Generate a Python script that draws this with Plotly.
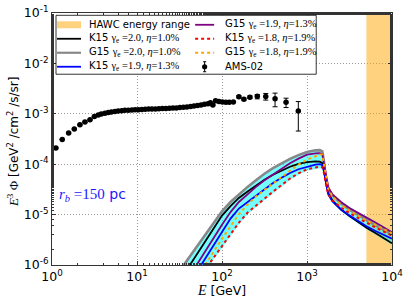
import numpy as np
import plotly.graph_objects as go

# ---------------- data ----------------
energy_gev = [31.6, 39.8, 50.1, 63.1, 79.4, 100, 126, 158, 200, 251, 316, 398, 501, 631, 794,
              1000, 1259, 1413, 1514, 1585, 1660, 1778, 1995, 2512, 3162, 3981, 5012, 6310, 7943, 10000]

# log10 of E^3 Phi [GeV^2 / cm^2 / s / sr]
log_k15_g20 = [-6.32, -6.06, -5.80, -5.54, -5.27, -5.02, -4.83, -4.67, -4.54, -4.42, -4.31, -4.21, -4.125, -4.05,
               -3.995, -3.96, -3.945, -3.95, -3.98, -4.12, -4.33, -4.57, -4.72, -4.90, -5.03, -5.15, -5.26, -5.36, -5.47, -5.57]
log_g15_g20 = [-6.12, -5.88, -5.64, -5.40, -5.16, -4.935, -4.75, -4.60, -4.45, -4.32, -4.19, -4.08, -3.98, -3.895,
               -3.82, -3.76, -3.725, -3.72, -3.745, -3.95, -4.25, -4.48, -4.62, -4.78, -4.90, -5.01, -5.11, -5.21, -5.30, -5.39]
log_k15_g19 = [-6.68, -6.41, -6.135, -5.87, -5.60, -5.33, -5.08, -4.88, -4.75, -4.625, -4.50, -4.375, -4.27, -4.175,
               -4.10, -4.05, -4.01, -4.00, -4.02, -4.15, -4.37, -4.60, -4.74, -4.90, -5.02, -5.13, -5.23, -5.32, -5.40, -5.48]
log_g15_g19 = [-6.54, -6.27, -6.005, -5.74, -5.47, -5.20, -4.95, -4.75, -4.60, -4.45, -4.32, -4.21, -4.10, -3.98,
               -3.89, -3.81, -3.785, -3.78, -3.80, -3.98, -4.24, -4.46, -4.60, -4.75, -4.87, -4.97, -5.06, -5.15, -5.25, -5.35]
log_k15_g18 = [-6.82, -6.57, -6.33, -6.09, -5.86, -5.63, -5.40, -5.16, -4.96, -4.82, -4.68, -4.545, -4.415, -4.285,
               -4.18, -4.10, -4.065, -4.05, -4.06, -4.18, -4.38, -4.60, -4.72, -4.86, -4.97, -5.07, -5.16, -5.25, -5.34, -5.42]
log_g15_g18 = [-6.80, -6.53, -6.26, -6.00, -5.74, -5.48, -5.23, -4.99, -4.80, -4.64, -4.51, -4.39, -4.26, -4.13,
               -4.01, -3.91, -3.84, -3.81, -3.81, -4.00, -4.26, -4.50, -4.64, -4.80, -4.92, -5.02, -5.12, -5.20, -5.29, -5.37]

hawc_range_gev = [5000, 10000]

ams_energy = [1.11, 1.32, 1.57, 1.83, 2.13, 2.44, 2.80, 3.15, 3.5,
              3.8, 4.2, 4.6, 5.0, 5.5, 6.0, 6.6, 7.2, 7.9, 8.7,
              9.5, 10.4, 11.4, 12.5, 13.7, 15.0, 16.5, 18.1, 19.9, 21.9,
              24.1, 26.5, 29.1, 32.0, 35.2, 38.7, 42.6, 46.8, 51.5, 56.6,
              62.3, 68.5, 73, 78, 84, 92, 101, 111, 122, 136,
              158, 181, 213, 260, 327, 421, 567, 790]
ams_flux = [2.09e-4, 3.1e-4, 4.15e-4, 4.98e-4, 6.05e-4, 6.84e-4, 7.6e-4, 8.85e-4, 9.5e-4,
            9.9e-4, 1.03e-3, 1.06e-3, 1.09e-3, 1.11e-3, 1.13e-3, 1.15e-3, 1.17e-3, 1.18e-3, 1.19e-3,
            1.20e-3, 1.21e-3, 1.22e-3, 1.23e-3, 1.24e-3, 1.24e-3, 1.25e-3, 1.26e-3, 1.27e-3, 1.28e-3,
            1.29e-3, 1.30e-3, 1.31e-3, 1.33e-3, 1.35e-3, 1.37e-3, 1.40e-3, 1.43e-3, 1.46e-3, 1.50e-3,
            1.54e-3, 1.59e-3, 1.65e-3, 1.49e-3, 1.81e-3, 1.76e-3, 1.72e-3, 1.69e-3, 1.69e-3, 1.71e-3,
            2.17e-3, 1.95e-3, 2.14e-3, 2.24e-3, 2.20e-3, 2.00e-3, 1.70e-3, 1.13e-3]
ams_err_hi = [0, 0, 0, 0, 0, 0, 0, 0, 0,
              0, 0, 0, 0, 0, 0, 0, 0, 0, 0,
              0, 0, 0, 0, 0, 0, 0, 0, 0, 0,
              0, 0, 0, 0, 0, 0, 0, 0, 0, 0,
              0, 0, 0, 0, 0, 0, 0, 0, 0, 0,
              0.10e-3, 0.10e-3, 0.12e-3, 0.17e-3, 0.33e-3, 0.57e-3, 0.34e-3, 0.62e-3]
ams_err_lo = [0, 0, 0, 0, 0, 0, 0, 0, 0,
              0, 0, 0, 0, 0, 0, 0, 0, 0, 0,
              0, 0, 0, 0, 0, 0, 0, 0, 0, 0,
              0, 0, 0, 0, 0, 0, 0, 0, 0, 0,
              0, 0, 0, 0, 0, 0, 0, 0, 0, 0,
              0.10e-3, 0.10e-3, 0.12e-3, 0.26e-3, 0.33e-3, 0.62e-3, 0.37e-3, 0.675e-3]

x_tickvals = [1, 10, 100, 1000, 10000]
x_ticktext = ["10<sup>0</sup>", "10<sup>1</sup>", "10<sup>2</sup>", "10<sup>3</sup>", "10<sup>4</sup>"]
y_tickvals = [1e-6, 1e-5, 1e-4, 1e-3, 1e-2, 1e-1]
y_ticktext = ["10<sup>-6</sup>", "10<sup>-5</sup>", "10<sup>-4</sup>", "10<sup>-3</sup>", "10<sup>-2</sup>", "10<sup>-1</sup>"]

# ---------------- figure ----------------
SERIF = "Liberation Serif"
SANS = "DejaVu Sans"

E = np.array(energy_gev)
curves = {
    "k15_g20": 10 ** np.array(log_k15_g20),
    "g15_g20": 10 ** np.array(log_g15_g20),
    "k15_g19": 10 ** np.array(log_k15_g19),
    "g15_g19": 10 ** np.array(log_g15_g19),
    "k15_g18": 10 ** np.array(log_k15_g18),
    "g15_g18": 10 ** np.array(log_g15_g18),
}
stack = np.log10(np.vstack(list(curves.values())))
band_hi = 10 ** (stack.max(axis=0) + 0.02)
band_lo = 10 ** (stack.min(axis=0) - 0.03)

fig = go.Figure()

# HAWC energy range
fig.add_trace(go.Scatter(
    x=[hawc_range_gev[0], hawc_range_gev[1], hawc_range_gev[1], hawc_range_gev[0]],
    y=[1e-6, 1e-6, 1e-1, 1e-1], fill="toself", mode="none",
    fillcolor="rgba(255,165,0,0.5)", showlegend=False, hoverinfo="skip"))

# cyan band
fig.add_trace(go.Scatter(x=E, y=band_lo, mode="lines", line=dict(width=0), showlegend=False))
fig.add_trace(go.Scatter(x=E, y=band_hi, mode="lines", line=dict(width=0), fill="tonexty",
                         fillcolor="rgba(0,255,255,0.55)", showlegend=False))

styles = [
    ("g15_g20", "#888888", 2.6, "solid"),
    ("k15_g20", "black", 1.8, "solid"),
    ("g15_g19", "#800080", 1.8, "solid"),
    ("k15_g19", "#0000ff", 1.8, "solid"),
    ("g15_g18", "#ffa500", 2.0, "dot"),
    ("k15_g18", "#ff0000", 2.0, "dot"),
]
for key, col, w, dash in styles:
    fig.add_trace(go.Scatter(x=E, y=curves[key], mode="lines",
                             line=dict(color=col, width=w, dash=dash), showlegend=False))

fig.add_trace(go.Scatter(
    x=ams_energy, y=ams_flux, mode="markers",
    marker=dict(color="black", size=5.5),
    error_y=dict(type="data", symmetric=False, array=ams_err_hi, arrayminus=ams_err_lo,
                 color="black", thickness=1, width=2.5),
    showlegend=False))

L, R, T, B = 52, 15.3, 12.7, 40
W, H = 407, 305
pw, ph = W - L - R, H - T - B

def px(x):
    return (x - L) / pw

def py(y):
    return (H - B - y) / ph

shapes = []
annos = []
# legend box
shapes.append(dict(type="rect", xref="paper", yref="paper", x0=px(56), x1=px(316), y0=py(74), y1=py(15),
                   fillcolor="white", line=dict(color="black", width=0.8), layer="above"))

def math(s, size=10.5):
    return '<span style="font-family:%s;font-size:%.1fpx">%s</span>' % (SERIF, size, s)

col1 = [
    ("patch", "rgba(255,165,0,0.5)", 0, "solid", "HAWC energy range"),
    ("line", "black", 1.8, "solid", "K15 " + math("γ<sub>e</sub> =2.0, <i>η</i>=1.0%")),
    ("line", "#888888", 2.2, "solid", "G15 " + math("γ<sub>e</sub> =2.0, <i>η</i>=1.0%")),
    ("line", "#0000ff", 1.8, "solid", "K15 " + math("γ<sub>e</sub> =1.9, <i>η</i>=1.3%")),
]
col2 = [
    ("line", "#800080", 1.8, "solid", "G15 " + math("γ<sub>e</sub> =1.9, <i>η</i>=1.3%")),
    ("line", "#ff0000", 1.8, "dot", "K15 " + math("γ<sub>e</sub> =1.8, <i>η</i>=1.9%")),
    ("line", "#ffa500", 1.8, "dot", "G15 " + math("γ<sub>e</sub> =1.8, <i>η</i>=1.9%")),
    ("marker", "black", 0, "solid", "AMS-02"),
]
rows = [24.5, 38.5, 52.5, 66.5]
for items, xs0, xs1, xt in [(col1, 57, 81, 86.5), (col2, 195, 214, 222.5)]:
    for (kind, col, w, dash, text), yy in zip(items, rows):
        if kind == "patch":
            shapes.append(dict(type="rect", xref="paper", yref="paper", x0=px(xs0), x1=px(xs1),
                               y0=py(yy + 3.5), y1=py(yy - 3.5), fillcolor=col, line=dict(width=0),
                               layer="above"))
        elif kind == "line":
            shapes.append(dict(type="line", xref="paper", yref="paper", x0=px(xs0), x1=px(xs1),
                               y0=py(yy), y1=py(yy), line=dict(color=col, width=w, dash=dash),
                               layer="above"))
        else:
            xm = (xs0 + xs1) / 2
            shapes.append(dict(type="line", xref="paper", yref="paper", x0=px(xm), x1=px(xm),
                               y0=py(yy + 5), y1=py(yy - 5), line=dict(color="black", width=1),
                               layer="above"))
            for dy in (-5, 5):
                shapes.append(dict(type="line", xref="paper", yref="paper", x0=px(xm - 1.5), x1=px(xm + 1.5),
                                   y0=py(yy + dy), y1=py(yy + dy), line=dict(color="black", width=1),
                                   layer="above"))
            shapes.append(dict(type="circle", xref="paper", yref="paper", x0=px(xm - 2.6), x1=px(xm + 2.6),
                               y0=py(yy + 2.6), y1=py(yy - 2.6), fillcolor="black",
                               line=dict(color="black", width=0), layer="above"))
        annos.append(dict(xref="paper", yref="paper", x=px(xt), y=py(yy), text=text, showarrow=False,
                          xanchor="left", yanchor="middle", font=dict(family=SANS, size=10, color="black")))

# r_b label
annos.append(dict(xref="paper", yref="paper", x=px(57), y=py(195),
                  text=math("<i>r<sub>b</sub></i> =150", 15) + " pc", showarrow=False,
                  xanchor="left", yanchor="middle", font=dict(family=SANS, size=14, color="#1a1aff")))
# axis titles
annos.append(dict(xref="paper", yref="paper", x=px(13), y=py(141), textangle=-90,
                  text=math("<i>E</i><sup>3</sup> Φ", 13) + " [GeV<sup>2</sup> /cm<sup>2</sup> /s/sr]",
                  showarrow=False, xanchor="center", yanchor="middle",
                  font=dict(family=SANS, size=12, color="black")))
annos.append(dict(xref="paper", yref="paper", x=px(221), y=py(291),
                  text=math("<i>E</i>", 14) + " [GeV]", showarrow=False, xanchor="center", yanchor="middle",
                  font=dict(family=SANS, size=12.5, color="black")))

axis_common = dict(
    type="log", showline=True, linecolor="#333333", linewidth=1, mirror="allticks",
    ticks="inside", ticklen=4, tickcolor="#333333", tickwidth=1, automargin=False,
    showgrid=True, gridcolor="#999999", griddash="1px,2px", gridwidth=1,
    tickfont=dict(family=SANS, size=12.5, color="black"), zeroline=False,
    minor=dict(ticks="inside", ticklen=2, tickcolor="#333333", showgrid=False),
)
fig.update_layout(
    width=W, height=H, margin=dict(l=L, r=R, t=T, b=B, pad=0, autoexpand=False),
    paper_bgcolor="white", plot_bgcolor="white", showlegend=False,
    xaxis=dict(range=[0, 4], tickvals=x_tickvals, ticktext=x_ticktext, **axis_common),
    yaxis=dict(range=[-6, -1], tickvals=y_tickvals, ticktext=y_ticktext, **axis_common),
    shapes=shapes, annotations=annos,
)
fig.write_html("out.html", config={"displayModeBar": False},
               post_script="document.body.style.margin='0px';document.body.style.overflow='hidden';")
